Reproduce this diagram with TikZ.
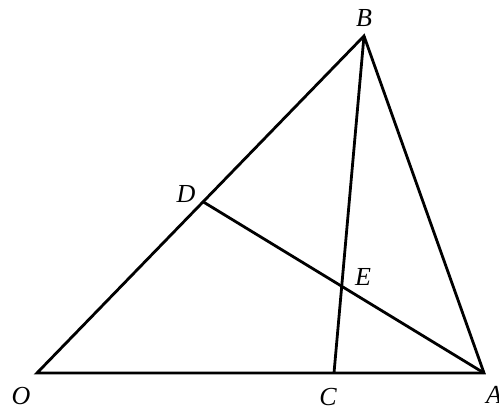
\documentclass[tikz,border=0pt]{standalone}
\usepackage{fontspec}
\setmainfont{Liberation Serif}
\usepackage{tikz}
\usetikzlibrary{calc}

\begin{document}
\begin{tikzpicture}[
    x=0.5pt, y=-0.5pt,
    seg/.style={line width=1.4pt, line join=miter},
    lbl/.style={font=\fontsize{13}{15}\selectfont\itshape, inner sep=0pt},
]
  \useasboundingbox (0,0) rectangle (499,410);
  % vertices
  \coordinate (O) at (37,373);
  \coordinate (A) at (484,373);
  \coordinate (B) at (364,36);
  \coordinate (C) at (334,373);
  \coordinate (D) at ($(O)!0.508!(B)$);
  \coordinate (E) at (341.5,286);

  \draw[seg] (O) -- (A) -- (B) -- cycle;
  \draw[seg] (C) -- (B);
  \draw[seg] (D) -- (A);

  \node[lbl] (lO) at (21,396) {O};
  \node[lbl] (lA) at (494,395) {A};
  \node[lbl] (lB) at (364,18) {B};
  \node[lbl] (lC) at (328,397) {C};
  \node[lbl] (lD) at (186,194) {D};
  \node[lbl] (lE) at (363,277) {E};
\end{tikzpicture}
\end{document}
